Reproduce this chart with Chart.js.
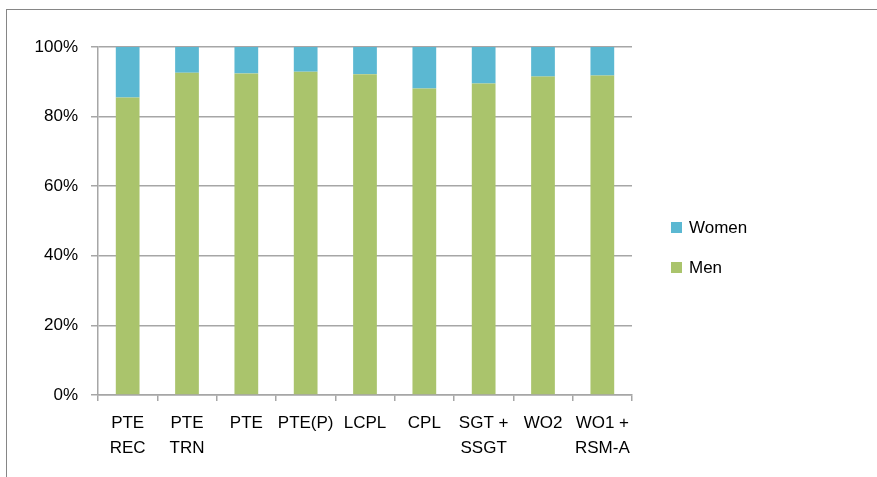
<!DOCTYPE html>
<html>
<head>
<meta charset="utf-8">
<script src="https://cdn.jsdelivr.net/npm/chart.js@4/dist/chart.umd.min.js"></script>
<style>
    body { margin: 0; background: #fff; }
    #wrap { position: relative; width: 877px; height: 477px; overflow: hidden; }
    #frame { position: absolute; left: 6px; top: 9px; width: 900px; height: 500px;
             border-left: 1px solid #868686; border-top: 1px solid #868686; }
    #chart { position: absolute; left: 0; top: 0; }
    #legend { position: absolute; left: 671px; top: 219px; font-family: "Liberation Sans", Arial, sans-serif;
              font-size: 17px; color: #000; }
    .item { display: flex; align-items: center; height: 17px; margin-bottom: 23px; }
    .box { width: 11px; height: 11px; margin-right: 7px; }
</style>
</head>
<body>
<div id="wrap">
    <div id="frame"></div>
    <canvas id="chart" width="877" height="477"></canvas>
    <div id="legend"></div>
</div>
<script>
// Chart data
const categories = [['PTE', 'REC'], ['PTE', 'TRN'], 'PTE', 'PTE(P)', 'LCPL', 'CPL', ['SGT +', 'SSGT'], 'WO2', ['WO1 +', 'RSM-A']];
const men = [85.5, 92.6, 92.4, 92.9, 92.2, 88.1, 89.5, 91.5, 91.8];
const women = [14.5, 7.4, 7.6, 7.1, 7.8, 11.9, 10.5, 8.5, 8.2];
const yTicks = [0, 20, 40, 60, 80, 100];

const gridColor = '#a6a6a6';
const fontFamily = '"Liberation Sans", Arial, sans-serif';

const ctx = document.getElementById('chart').getContext('2d');
const chart = new Chart(ctx, {
    type: 'bar',
    data: {
        labels: categories,
        datasets: [
            { label: 'Men', data: men, backgroundColor: '#aac46c' },
            { label: 'Women', data: women, backgroundColor: '#5bb8d2' }
        ]
    },
    options: {
        responsive: false,
        animation: false,
        layout: { padding: { top: 47, right: 245, bottom: 0, left: 0 } },
        datasets: { bar: { categoryPercentage: 1, barPercentage: 0.4, borderWidth: 0 } },
        plugins: { legend: { display: false }, tooltip: { enabled: false } },
        scales: {
            x: {
                stacked: true,
                offset: true,
                grid: { display: true, drawOnChartArea: false, color: gridColor, lineWidth: 1.5, tickLength: 6, offset: true },
                border: { color: gridColor, width: 1.5 },
                ticks: { color: '#000', padding: 10, maxRotation: 0, autoSkip: false,
                         font: { family: fontFamily, size: 17, lineHeight: 25 / 17 } },
                afterFit: s => { s.height = 82; }
            },
            y: {
                stacked: true,
                min: 0,
                max: 100,
                afterBuildTicks: s => { s.ticks = yTicks.map(v => ({ value: v })); },
                grid: { color: gridColor, lineWidth: 1.5, tickLength: 7 },
                border: { color: gridColor, width: 1.5 },
                ticks: { color: '#000', padding: 13, callback: v => v + '%',
                         font: { family: fontFamily, size: 17 } },
                afterFit: s => { s.width = 98; }
            }
        }
    }
});

// Legend (Women listed above Men, as stacked)
const legend = document.getElementById('legend');
chart.data.datasets.slice().reverse().forEach(ds => {
    legend.innerHTML += `<div class="item"><div class="box" style="background:${ds.backgroundColor}"></div>${ds.label}</div>`;
});
</script>
</body>
</html>
